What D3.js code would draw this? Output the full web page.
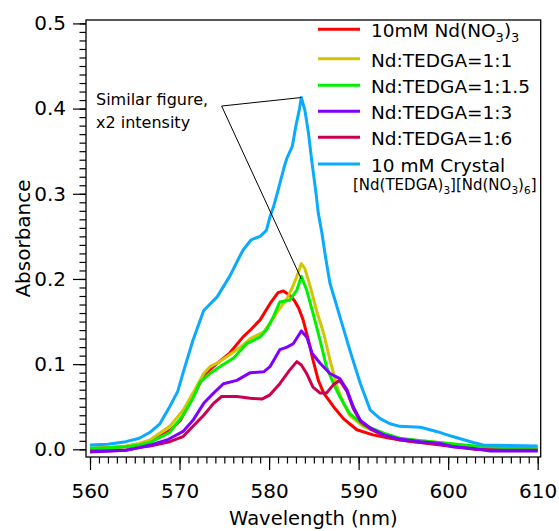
<!DOCTYPE html>
<html>
<head>
<meta charset="utf-8">
<script src="https://cdn.jsdelivr.net/npm/d3@7"></script>
<style>
  html, body { margin: 0; padding: 0; background: #fff; }
  svg { display: block; font-family: "DejaVu Sans", sans-serif; }
</style>
</head>
<body>
<svg id="chart" width="559" height="531"></svg>
<script>
// Absorption spectra of Nd3+ solutions around the 580 nm band
// Each series: [wavelength (nm), absorbance]
const nitrate10mM = [
  [560,0.001],[562,0.002],[564,0.003],[565.5,0.006],[566.7,0.010],[567.8,0.015],[568.9,0.022],
  [570.1,0.034],[571.5,0.062],[572.8,0.088],[574.2,0.101],[575.6,0.113],[577.1,0.132],[578.0,0.141],
  [579.0,0.152],[580.1,0.171],[581.0,0.184],[581.6,0.186],[582.3,0.181],[582.8,0.175],[583.3,0.166],
  [583.8,0.152],[584.4,0.128],[584.9,0.105],[585.5,0.081],[586.1,0.066],[587.2,0.050],[588.3,0.036],
  [589.8,0.023],[591.6,0.017],[593.5,0.013],[596.1,0.009],[599.8,0.005],[601.5,0.003],[603.2,0.000],
  [604.5,0.001],[607,0.000],[610,0.000]
];
const ratio1to1 = [
  [560,0.001],[562,0.002],[564,0.004],[565.5,0.007],[566.7,0.011],[568.9,0.027],[570.4,0.046],
  [571.5,0.066],[572.7,0.089],[573.4,0.097],[574.5,0.103],[575.6,0.111],[576.8,0.120],[577.9,0.130],
  [579.4,0.138],[580.1,0.148],[580.9,0.161],[582.0,0.177],[582.6,0.190],[583.1,0.203],[583.6,0.218],
  [584.0,0.212],[584.6,0.191],[585.3,0.163],[586.1,0.136],[586.8,0.105],[587.6,0.073],[588.3,0.054],
  [589.0,0.040],[590.5,0.027],[592.8,0.017],[594.6,0.012],[597,0.010],[600,0.007],[603,0.003],
  [606,0.002],[610,0.001]
];
const ratio1to1_5 = [
  [560,0.0015],[562,0.002],[564,0.003],[565.5,0.005],[566.7,0.008],[568.9,0.020],[570.4,0.040],
  [571.5,0.060],[572.3,0.079],[573.4,0.089],[574.5,0.097],[576.0,0.107],[577.5,0.124],[579.0,0.132],
  [579.7,0.140],[580.5,0.156],[581.2,0.173],[582.3,0.175],[583.1,0.187],[583.6,0.203],[584.2,0.187],
  [584.9,0.160],[585.7,0.128],[586.4,0.097],[587.2,0.077],[587.9,0.062],[589.0,0.042],[590.5,0.029],
  [592.8,0.019],[594.6,0.013],[597,0.010],[600,0.007],[603,0.004],[606,0.002],[610,0.0006]
];
const ratio1to3 = [
  [560,-0.003],[562,-0.002],[564,-0.001],[565.5,0.002],[566.7,0.005],[568.6,0.011],[570.4,0.021],
  [571.5,0.034],[572.7,0.054],[573.8,0.066],[574.9,0.077],[576.4,0.081],[577.9,0.090],[579.4,0.091],
  [580.1,0.097],[581.2,0.117],[582.0,0.120],[582.7,0.124],[583.6,0.139],[584.2,0.132],[584.8,0.113],
  [585.7,0.101],[586.8,0.089],[587.9,0.083],[588.7,0.070],[589.4,0.050],[590.2,0.034],[591.3,0.025],
  [592.8,0.017],[594.6,0.012],[596.9,0.009],[599.1,0.007],[600.5,0.003],[602.8,0.001],[604.7,-0.002],
  [610,-0.002]
];
const ratio1to6 = [
  [560,-0.002],[562,-0.002],[564,-0.001],[565.5,0.002],[566.7,0.004],[568.9,0.009],[570.4,0.015],
  [571.5,0.027],[572.7,0.040],[573.8,0.054],[574.7,0.062],[576.4,0.062],[577.9,0.060],[579.2,0.059],
  [580.1,0.064],[581.2,0.077],[582.3,0.093],[583.1,0.103],[583.6,0.099],[584.2,0.089],[584.9,0.073],
  [585.7,0.066],[586.4,0.066],[587.2,0.076],[587.9,0.081],[588.7,0.068],[589.4,0.048],[590.2,0.033],
  [591.3,0.024],[592.8,0.016],[594.6,0.011],[597,0.008],[600,0.004],[603,0.000],[606,-0.001],[610,-0.001]
];
const crystal10mM = [
  [560,0.005],[562,0.006],[564,0.009],[565.5,0.013],[566.7,0.020],[567.8,0.030],[568.9,0.050],
  [569.8,0.068],[570.4,0.090],[571.5,0.128],[572.7,0.163],[574.2,0.179],[575.6,0.203],[576.6,0.224],
  [577.1,0.234],[578.0,0.246],[579.0,0.250],[579.7,0.257],[580.1,0.273],[580.5,0.285],[580.9,0.300],
  [581.3,0.316],[581.7,0.332],[582.0,0.342],[582.6,0.356],[583.0,0.380],[583.4,0.400],[583.6,0.413],
  [584.0,0.398],[584.4,0.371],[584.8,0.336],[585.2,0.304],[585.5,0.277],[585.9,0.254],[586.3,0.226],
  [586.8,0.195],[587.9,0.156],[589.0,0.117],[590.2,0.077],[591.3,0.046],[592.4,0.036],[593.5,0.030],
  [594.6,0.027],[596.9,0.026],[598.7,0.021],[600.5,0.015],[602.8,0.008],[603.9,0.005],[610,0.004]
];

const seriesNames = [
  "10mM Nd(NO3)3", "Nd:TEDGA=1:1", "Nd:TEDGA=1:1.5",
  "Nd:TEDGA=1:3", "Nd:TEDGA=1:6", "10 mM Crystal"
];
const seriesColors = ["#ff0000", "#d2c600", "#00f000", "#8000ff", "#cc0050", "#0aaaff"];
const seriesValues = [nitrate10mM, ratio1to1, ratio1to1_5, ratio1to3, ratio1to6, crystal10mM];
// trace stacking: the 1:6 trace sits beneath the 1:3 trace
const drawOrder = [0, 1, 2, 4, 3, 5];

const xMajorTicks = [560, 570, 580, 590, 600, 610];
const xMinorTicks = d3.range(560, 611, 1);
const yMajorTicks = [0.0, 0.1, 0.2, 0.3, 0.4, 0.5];
const yMinorTicks = d3.range(0, 51).map(i => i / 100);

const annotationLines = ["Similar figure,", "x2 intensity"];
// callout: elbow point and the two peaks it points to
const calloutElbow = [574.7, 0.403];
const calloutTargets = [[583.6, 0.413], [583.6, 0.200]];

const svg = d3.select("#chart");
const frame = { left: 86, right: 540.7, top: 20, bottom: 457 };

const x = d3.scaleLinear().domain([559.553, 610.335]).range([frame.left, frame.right]);
const y = d3.scaleLinear().domain([-0.009, 0.504]).range([frame.bottom, frame.top]);

// curves
const line = d3.line().x(d => x(d[0])).y(d => y(d[1]));
svg.append("clipPath").attr("id", "plotClip")
  .append("rect").attr("x", frame.left).attr("y", frame.top)
  .attr("width", frame.right - frame.left).attr("height", frame.bottom - frame.top);

const plot = svg.append("g").attr("clip-path", "url(#plotClip)");
drawOrder.forEach(i => {
  plot.append("path")
    .datum(seriesValues[i])
    .attr("fill", "none")
    .attr("stroke", seriesColors[i])
    .attr("stroke-width", 3)
    .attr("stroke-linejoin", "round")
    .attr("d", line);
});

// callout lines
calloutTargets.forEach(t => {
  svg.append("line")
    .attr("x1", x(calloutElbow[0])).attr("y1", y(calloutElbow[1]))
    .attr("x2", x(t[0])).attr("y2", y(t[1]))
    .attr("stroke", "#000").attr("stroke-width", 1);
});
svg.append("text")
  .attr("x", 96).attr("y", 105)
  .attr("font-size", 16)
  .selectAll("tspan").data(annotationLines).join("tspan")
  .attr("x", 96).attr("dy", (d, i) => i === 0 ? 0 : 22.7)
  .text(d => d);

// frame
svg.append("rect")
  .attr("x", frame.left).attr("y", frame.top)
  .attr("width", frame.right - frame.left).attr("height", frame.bottom - frame.top)
  .attr("fill", "none").attr("stroke", "#000").attr("stroke-width", 1.3);

// x axis
const xMinor = svg.append("g").attr("transform", `translate(0,${frame.bottom})`)
  .call(d3.axisBottom(x).tickValues(xMinorTicks).tickSize(6.5).tickFormat(""));
const xMajor = svg.append("g").attr("transform", `translate(0,${frame.bottom})`)
  .call(d3.axisBottom(x).tickValues(xMajorTicks).tickSize(13).tickPadding(13.5).tickFormat(d3.format("d")));

// y axis
const yMinor = svg.append("g").attr("transform", `translate(${frame.left},0)`)
  .call(d3.axisLeft(y).tickValues(yMinorTicks).tickSize(6.5).tickFormat(""));
const yMajor = svg.append("g").attr("transform", `translate(${frame.left},0)`)
  .call(d3.axisLeft(y).tickValues(yMajorTicks).tickSize(13).tickPadding(7).tickFormat(d3.format(".1f")));

[xMinor, xMajor, yMinor, yMajor].forEach(g => {
  g.select(".domain").remove();
  g.selectAll(".tick line").attr("stroke", "#000").attr("stroke-width", 1.2);
  g.selectAll("text").attr("font-family", "DejaVu Sans, sans-serif")
    .attr("font-size", 20).attr("fill", "#000");
});

// axis titles
svg.append("text")
  .attr("x", (frame.left + frame.right) / 2).attr("y", 525)
  .attr("text-anchor", "middle").attr("font-size", 19.5)
  .text("Wavelength (nm)");
svg.append("text")
  .attr("transform", "translate(30,238.5) rotate(-90)")
  .attr("text-anchor", "middle").attr("font-size", 20)
  .text("Absorbance");

// legend
const legendRows = [29.3, 58.7, 85.3, 111.3, 137.3, 164];
const legend = svg.append("g");
seriesNames.forEach((name, i) => {
  legend.append("line")
    .attr("x1", 318).attr("x2", 360)
    .attr("y1", legendRows[i]).attr("y2", legendRows[i])
    .attr("stroke", seriesColors[i]).attr("stroke-width", 3);
});

// label text with subscript digits
function addLabel(g, xPos, yPos, parts, size, subSize) {
  const t = g.append("text").attr("x", xPos).attr("y", yPos).attr("font-size", size);
  let shifted = false;
  parts.forEach(p => {
    const s = t.append("tspan").text(p.text);
    if (p.sub) {
      s.attr("font-size", subSize).attr("dy", shifted ? 0 : size * 0.28);
      shifted = true;
    } else {
      if (shifted) s.attr("dy", -size * 0.28);
      shifted = false;
    }
  });
}

addLabel(legend, 371, legendRows[0] + 8, [
  { text: "10mM Nd(NO" }, { text: "3", sub: true }, { text: ")" }, { text: "3", sub: true }
], 18.5, 13);
for (let i = 1; i < 5; i++) {
  addLabel(legend, 371, legendRows[i] + 8, [{ text: seriesNames[i] }], 18.5, 13);
}
addLabel(legend, 371, legendRows[5] + 8, [{ text: "10 mM Crystal" }], 18.5, 13);
addLabel(legend, 353, 189.5, [
  { text: "[Nd(TEDGA)" }, { text: "3", sub: true }, { text: "][Nd(NO" }, { text: "3", sub: true },
  { text: ")" }, { text: "6", sub: true }, { text: "]" }
], 15, 10.5);
</script>
</body>
</html>
